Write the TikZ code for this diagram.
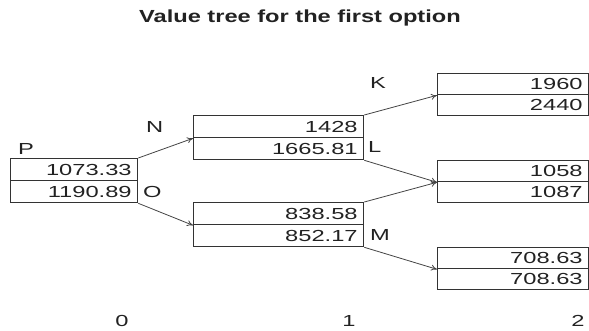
\documentclass[tikz,border=0pt]{standalone}
\usepackage{fontspec}
\setmainfont{Liberation Sans}
\newfontfamily\numfont[FakeStretch=1.48]{Liberation Sans}
\newfontfamily\titlefont[FakeStretch=1.35]{Liberation Sans}
\usetikzlibrary{arrows.meta}
\definecolor{ink}{HTML}{222222}
\definecolor{boxline}{HTML}{333333}
\definecolor{arrowline}{HTML}{444444}
\begin{document}
\begin{tikzpicture}[x=1pt,y=-1pt,
  cell/.style={draw=boxline, line width=1.3pt, inner xsep=6pt, inner ysep=0pt,
    minimum height=22pt, anchor=north west, align=right,
    font=\numfont\fontsize{16}{18}\selectfont, text=ink},
  cellA/.style={cell, text width=115pt},
  cellB/.style={cell, text width=158pt},
  cellC/.style={cell, text width=139pt, minimum height=21pt},
  lbl/.style={font=\numfont\fontsize{16}{18}\selectfont, text=ink, inner sep=0pt, anchor=west},
  axis/.style={font=\numfont\fontsize{16}{18}\selectfont, text=ink, inner sep=0pt},
  conn/.style={draw=arrowline, line width=0.8pt, -{To[length=6pt,width=6pt]}}
]
\useasboundingbox (0,0) rectangle (589,330);

\node[font=\titlefont\bfseries\fontsize{17.5}{19}\selectfont, text=ink] (title) at (300,18) {Value tree for the first option};

% level 0
\node[cellA] (p1) at (10,158) {1073.33};
\node[cellA] (p2) at (10,180) {1190.89};
% level 1
\node[cellB] (n1) at (193,115) {1428};
\node[cellB] (n2) at (193,137) {1665.81};
\node[cellB] (m1) at (193,202) {838.58};
\node[cellB] (m2) at (193,224) {852.17};
% level 2
\node[cellC] (k1) at (437,73) {1960};
\node[cellC] (k2) at (437,94) {2440};
\node[cellC] (l1) at (437,160) {1058};
\node[cellC] (l2) at (437,181) {1087};
\node[cellC] (q1) at (437,247) {708.63};
\node[cellC] (q2) at (437,268) {708.63};

% labels
\node[lbl] (lP) at (18,149) {P};
\node[lbl] (lO) at (143,192) {O};
\node[lbl] (lN) at (146,127) {N};
\node[lbl] (lL) at (368,147) {L};
\node[lbl] (lK) at (370,83) {K};
\node[lbl] (lM) at (370,235) {M};

% connectors
\draw[conn] (p1.north east) -- (n1.south west);
\draw[conn] (p2.south east) -- (m1.south west);
\draw[conn] (n1.north east) -- (k1.south west);
\draw[conn] (n2.south east) -- (l1.south west);
\draw[conn] (m1.north east) -- (l1.south west);
\draw[conn] (m2.south east) -- (q1.south west);

% axis
\node[axis] (t0) at (122,321) {0};
\node[axis] (t1) at (349,321) {1};
\node[axis] (t2) at (578,321) {2};
\end{tikzpicture}
\end{document}
